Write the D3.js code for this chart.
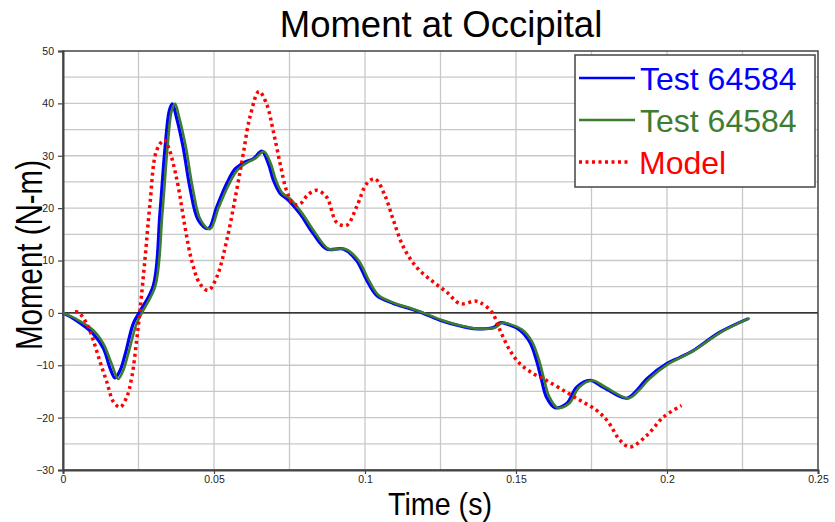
<!DOCTYPE html>
<html>
<head>
<meta charset="utf-8">
<script src="https://cdn.jsdelivr.net/npm/d3@7"></script>
<style>
  html, body { margin: 0; padding: 0; background: #fff; }
  svg { display: block; font-family: Arial, "Liberation Sans", sans-serif; }
</style>
</head>
<body>
<svg id="chart" width="835" height="522"></svg>
<script>
// Occipital moment, test 64584 (two channels) against the model
const testATime = [0, 0.004, 0.0100, 0.0134, 0.0156, 0.0172, 0.0189, 0.0205, 0.0233, 0.0255, 0.0299, 0.0321, 0.0338, 0.0352, 0.0362, 0.0375, 0.0398, 0.042, 0.0448, 0.0481, 0.0509, 0.0542, 0.057, 0.0603, 0.063, 0.0658, 0.068, 0.0697, 0.0719, 0.0745, 0.0785, 0.0829, 0.0873, 0.0928, 0.0972, 0.1006, 0.1039, 0.1094, 0.1149, 0.1182, 0.1248, 0.1315, 0.1359, 0.1425, 0.1447, 0.1469, 0.1513, 0.1546, 0.1568, 0.1585, 0.1601, 0.1629, 0.1668, 0.1701, 0.1745, 0.1789, 0.1866, 0.19, 0.1933, 0.1999, 0.2043, 0.2087, 0.2175, 0.2269];
const testAMoment = [0, -1.3, -4.0, -6.8, -10.6, -12.4, -11.0, -8.1, -2.0, 0.3, 5.2, 19, 31.6, 38.6, 39.9, 37.5, 31.6, 24, 17.7, 16.1, 20.2, 24.7, 27.5, 28.8, 29.4, 30.9, 28.5, 25.3, 22.8, 21.6, 18.9, 15.1, 12.2, 12.2, 10, 6.2, 3.3, 1.8, 0.8, 0.15, -1.4, -2.5, -3, -2.8, -1.9, -2.1, -3.3, -5.6, -9.1, -12.9, -16.1, -18.1, -17.3, -14.2, -12.9, -14.2, -16.3, -14.8, -12.6, -9.7, -8.5, -7.2, -3.7, -1.1];

const testBTime = [0, 0.0045, 0.0100, 0.0134, 0.0161, 0.0183, 0.0198, 0.0216, 0.0244, 0.0266, 0.0306, 0.0329, 0.0346, 0.036, 0.0371, 0.0384, 0.0407, 0.0429, 0.0456, 0.0487, 0.0516, 0.0549, 0.0578, 0.061, 0.0637, 0.0665, 0.0688, 0.0704, 0.0726, 0.0752, 0.0792, 0.0836, 0.088, 0.0935, 0.0979, 0.1013, 0.1046, 0.1101, 0.1156, 0.119, 0.1256, 0.1322, 0.1366, 0.1432, 0.1454, 0.1476, 0.152, 0.1553, 0.1576, 0.1594, 0.161, 0.1638, 0.1676, 0.1709, 0.1753, 0.1797, 0.1873, 0.1907, 0.194, 0.2006, 0.205, 0.2094, 0.2182, 0.2274];
const testBMoment = [0, -1.2, -3.3, -5.9, -9.7, -12.6, -11.2, -7.8, -2.0, 0.5, 5.2, 19, 31.6, 38.6, 39.9, 37.5, 31.6, 24, 17.7, 16, 20.2, 24.5, 27.3, 28.7, 29.5, 30.8, 28.5, 25.5, 22.9, 21.8, 19, 15.2, 12.2, 12.2, 10, 6.2, 3.3, 1.8, 0.8, 0.1, -1.4, -2.5, -3, -2.8, -1.9, -2.1, -3.2, -5.5, -9.0, -12.9, -16.0, -18.1, -17.3, -14.2, -12.9, -14.2, -16.3, -14.8, -12.7, -9.7, -8.4, -7, -3.6, -1.0];

const modelTime = [0.004, 0.0051, 0.0078, 0.0100, 0.0123, 0.0145, 0.0167, 0.0189, 0.0211, 0.0228, 0.0244, 0.0255, 0.0272, 0.0288, 0.031, 0.0335, 0.035, 0.0365, 0.0382, 0.0404, 0.0426, 0.0453, 0.0481, 0.0509, 0.0542, 0.0575, 0.0597, 0.0619, 0.0649, 0.0674, 0.0697, 0.0719, 0.074, 0.0763, 0.0785, 0.081, 0.084, 0.0873, 0.0906, 0.0939, 0.0972, 0.1006, 0.1033, 0.1066, 0.1094, 0.1127, 0.1171, 0.1226, 0.127, 0.1315, 0.1364, 0.1381, 0.142, 0.1447, 0.148, 0.1513, 0.1557, 0.1601, 0.1657, 0.1712, 0.1767, 0.1805, 0.1844, 0.1877, 0.1933, 0.1988, 0.2048];
const modelMoment = [0.2, 0.1, -2.0, -5.2, -9.4, -13.2, -17.0, -18.0, -16.1, -12.2, -5.2, 0.5, 10.6, 20.8, 31, 33, 31.5, 28.5, 24, 16.4, 10, 5.6, 4.3, 6.8, 13.8, 23.4, 30.4, 37.4, 42.3, 39.9, 34.5, 28.5, 23.4, 20.8, 20.8, 22.5, 23.4, 22.1, 17.3, 16.7, 20.2, 24.7, 25.6, 22.4, 17.7, 12.6, 8.7, 5.9, 4, 1.75, 2.25, 2.0, 0.15, -3.3, -7.2, -9.7, -11.6, -12.9, -14.8, -16.7, -18.6, -20.8, -24.3, -25.6, -23.4, -19.9, -17.7];

const xTickValues = [0, 0.05, 0.1, 0.15, 0.2, 0.25];
const yTickValues = [-30, -20, -10, 0, 10, 20, 30, 40, 50];
const seriesNames = ["Test 64584", "Test 64584", "Model"];
const seriesColors = ["#0000ff", "#3c7d32", "#ff0000"];

const svg = d3.select("#chart");
const margin = { left: 63, top: 51, right: 17, bottom: 52 };
const W = 835, H = 522;
const x = d3.scaleLinear().domain([0, 0.25]).range([margin.left, W - margin.right]);
const y = d3.scaleLinear().domain([-30, 50]).range([H - margin.bottom, margin.top]);

// grid
const grid = svg.append("g");
grid.selectAll("line.vx").data(d3.range(0.025, 0.25, 0.025)).join("line")
  .attr("x1", d => x(d)).attr("x2", d => x(d))
  .attr("y1", y(50)).attr("y2", y(-30))
  .attr("stroke", "#c8c8c8").attr("stroke-width", 1.3);
grid.selectAll("line.hy").data(d3.range(-25, 50, 5)).join("line")
  .attr("y1", d => y(d)).attr("y2", d => y(d))
  .attr("x1", x(0)).attr("x2", x(0.25))
  .attr("stroke", "#c8c8c8").attr("stroke-width", 1.3);

// zero line
svg.append("line").attr("x1", x(0)).attr("x2", x(0.25))
  .attr("y1", y(0)).attr("y2", y(0)).attr("stroke", "#000").attr("stroke-width", 1.2);

// frame
svg.append("rect").attr("x", x(0)).attr("y", y(50))
  .attr("width", x(0.25) - x(0)).attr("height", y(-30) - y(50))
  .attr("fill", "none").attr("stroke", "#444").attr("stroke-width", 1.5);

// axes
const xAxis = svg.append("g").attr("transform", `translate(0,${y(-30)})`)
  .call(d3.axisBottom(x).tickValues(xTickValues).tickSize(4).tickPadding(2)
    .tickFormat(d => d3.format("")(+d.toFixed(2))));
const yAxis = svg.append("g").attr("transform", `translate(${x(0)},0)`)
  .call(d3.axisLeft(y).tickValues(yTickValues).tickSize(5).tickFormat(d3.format("d")));
[xAxis, yAxis].forEach(a => {
  a.select(".domain").attr("stroke", "#444").attr("stroke-width", 2);
  a.selectAll(".tick line").attr("stroke", "#444").attr("stroke-width", 1.2);
  a.selectAll(".tick text").attr("font-size", 10.5).attr("fill", "#222")
    .attr("font-family", "Arial, 'Liberation Sans', sans-serif");
});
xAxis.selectAll(".tick text").attr("dy", "0.71em");
yAxis.selectAll(".tick text").attr("dx", "-1px");

// series
const line = d3.line().x(d => x(d[0])).y(d => y(d[1])).curve(d3.curveCatmullRom.alpha(0.5));
const zipSeries = (t, v) => t.map((ti, i) => [ti, v[i]]);

svg.append("path").datum(zipSeries(testATime, testAMoment)).attr("d", line)
  .attr("fill", "none").attr("stroke", seriesColors[0]).attr("stroke-width", 3.2);
svg.append("path").datum(zipSeries(testBTime, testBMoment)).attr("d", line)
  .attr("fill", "none").attr("stroke", seriesColors[1]).attr("stroke-width", 2.6);
svg.append("path").datum(zipSeries(modelTime, modelMoment)).attr("d", line)
  .attr("fill", "none").attr("stroke", seriesColors[2]).attr("stroke-width", 3.5)
  .attr("stroke-dasharray", "3 3.5");

// titles
const narrow = "'Liberation Sans Narrow', 'Arial Narrow', Arial, sans-serif";
svg.append("text").attr("x", 441).attr("y", 37).attr("text-anchor", "middle")
  .attr("font-size", 36.5).attr("fill", "#000").text("Moment at Occipital");
svg.append("text").attr("x", 440).attr("y", 515).attr("text-anchor", "middle")
  .attr("font-family", narrow).attr("font-size", 32)
  .attr("textLength", 104).attr("lengthAdjust", "spacingAndGlyphs")
  .attr("fill", "#000").text("Time (s)");
svg.append("text").attr("transform", "translate(42,255) rotate(-90)").attr("text-anchor", "middle")
  .attr("font-family", narrow).attr("font-size", 36)
  .attr("textLength", 190).attr("lengthAdjust", "spacingAndGlyphs")
  .attr("fill", "#000").text("Moment (N-m)");

// legend
const lg = svg.append("g");
lg.append("rect").attr("x", 575).attr("y", 55).attr("width", 240).attr("height", 132)
  .attr("fill", "#fff").attr("stroke", "#444").attr("stroke-width", 1.5);
const rowsY = [78, 120, 162];
seriesNames.forEach((name, i) => {
  const ln = lg.append("line").attr("x1", 579).attr("x2", i === 2 ? 630 : 635)
    .attr("y1", rowsY[i]).attr("y2", rowsY[i])
    .attr("stroke", seriesColors[i]).attr("stroke-width", i === 2 ? 3.5 : 2.5);
  if (i === 2) ln.attr("stroke-dasharray", "3 3.5");
  lg.append("text").attr("x", i === 2 ? 639 : 640).attr("y", rowsY[i] + 12)
    .attr("font-size", 32).attr("fill", seriesColors[i]).text(name);
});
</script>
</body>
</html>
